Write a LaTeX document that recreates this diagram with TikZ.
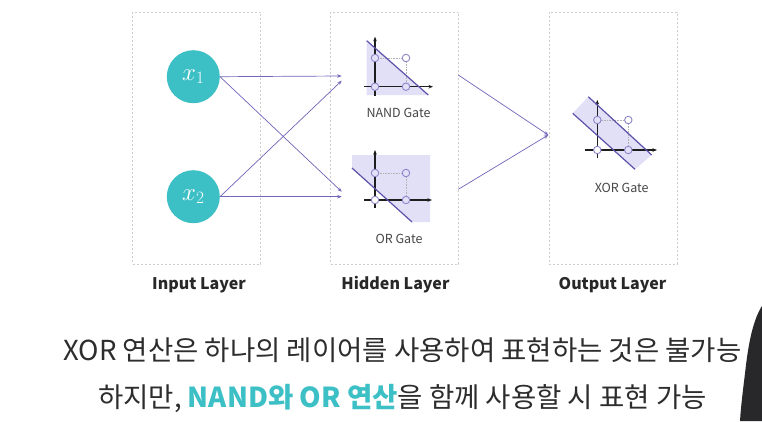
\documentclass[tikz,border=0pt]{standalone}
\usepackage{fontspec}
\setmainfont{Noto Sans CJK KR}
\usetikzlibrary{arrows.meta}

\definecolor{nodeteal}{RGB}{61,191,198}
\definecolor{linkpurple}{RGB}{112,102,186}
\definecolor{boxgray}{RGB}{205,205,205}
\definecolor{gateshade}{RGB}{226,224,247}
\definecolor{sepline}{RGB}{92,82,170}
\definecolor{dotline}{RGB}{140,133,204}
\definecolor{axisblack}{RGB}{30,30,30}
\definecolor{labelgray}{RGB}{40,40,40}
\definecolor{gatetext}{RGB}{70,70,70}
\definecolor{captiongray}{RGB}{45,45,45}
\definecolor{shoulder}{RGB}{40,40,42}

\begin{document}
\begin{tikzpicture}[
        x=1pt, y=-1pt,
        >={Stealth[length=4.5pt,width=3.5pt]},
        layer/.style={
            draw=boxgray,
            line width=0.5pt,
            dash pattern=on 2pt off 2pt,
            minimum width=128pt,
            minimum height=252pt,
            inner sep=0pt
        },
        neuron/.style={
            circle,
            fill=nodeteal,
            minimum size=53pt,
            inner sep=0pt,
            text=white,
            font=\fontsize{25}{25}\selectfont
        },
        link/.style={draw=linkpurple, line width=0.7pt},
        layerlabel/.style={font=\fontsize{16}{16}\selectfont\bfseries, text=labelgray},
        gatelabel/.style={font=\fontsize{12.5}{12.5}\selectfont, text=gatetext},
        axis/.style={->, line width=1.2pt, draw=axisblack},
        bound/.style={line width=1.2pt, draw=sepline},
        guide/.style={densely dotted, draw=gray!60, line width=0.6pt},
        dot/.style={circle, draw=dotline, line width=0.9pt, fill=gateshade, minimum size=7.5pt, inner sep=0pt},
        hollow/.style={dot, fill=white},
        caption/.style={font=\fontsize{27.5}{27.5}\selectfont, text=captiongray}
    ]
    \useasboundingbox[fill=white] (0,0) rectangle (762,421);

    \node[layer] (input) at (196.6,138) {};
    \node[layer] (hidden) at (394.6,138) {};
    \node[layer] (output) at (613,138) {};

    \node[layerlabel] (inputlabel) at (199,285) {Input Layer};
    \node[layerlabel] (hiddenlabel) at (395.4,285) {Hidden Layer};
    \node[layerlabel] (outputlabel) at (612.5,285) {Output Layer};

    \node[neuron] (x1) at (193.3,76.7) {$x_1$};
    \node[neuron] (x2) at (193.3,196.7) {$x_2$};

    % NAND
    \fill[gateshade] (366.7,40.7) -- (428.3,95) -- (366.7,95) -- cycle;
    \draw[guide] (375,58) -- (406,58) -- (406,86.7);
    \draw[axis] (375,96) -- (375,36.7);
    \draw[axis] (364,86.7) -- (433,86.7);
    \draw[bound] (366.7,40.7) -- (428.3,95);
    \node[dot] (nand01) at (375,58) {};
    \node[hollow] (nand11) at (406,58) {};
    \node[dot] (nand00) at (375,86.7) {};
    \node[dot] (nand10) at (406,86.7) {};
    \node[gatelabel] (nandlabel) at (398.5,113) {NAND Gate};

    % OR
    \fill[gateshade] (352,155) -- (430,155) -- (430,222) -- (412,222) -- (352,168) -- cycle;
    \draw[guide] (375,173) -- (406,173) -- (406,200);
    \draw[axis] (375,208) -- (375,150);
    \draw[axis] (364,200) -- (432,200);
    \draw[bound] (352,168) -- (412,222);
    \node[dot] (or01) at (375,173) {};
    \node[dot] (or11) at (406,173) {};
    \node[hollow] (or00) at (375,200) {};
    \node[dot] (or10) at (406,200) {};
    \node[gatelabel] (orlabel) at (399,238.5) {OR Gate};

    % XOR
    \fill[gateshade] (588.3,96.7) -- (651.7,155) -- (635,169.3) -- (572.7,113.3) -- cycle;
    \draw[guide] (597.3,120) -- (628.3,120) -- (628.3,150);
    \draw[axis] (597.3,158.3) -- (597.3,100);
    \draw[axis] (585,150) -- (657,150);
    \draw[bound] (588.3,96.7) -- (651.7,155);
    \draw[bound] (572.7,113.3) -- (635,169.3);
    \node[dot] (xor01) at (597.3,120) {};
    \node[hollow] (xor11) at (628.3,120) {};
    \node[hollow] (xor00) at (597.3,150) {};
    \node[dot] (xor10) at (628.3,150) {};
    \node[gatelabel] (xorlabel) at (621.7,188.3) {XOR Gate};

    \coordinate (nandin) at (341.7,76);
    \coordinate (nandcross) at (341.7,80.7);
    \coordinate (orcross) at (341.7,191.7);
    \coordinate (orin) at (341.7,196.7);
    \coordinate (nandout) at (458.3,75);
    \coordinate (orout) at (458.3,189.3);
    \coordinate (xorin) at (548.3,135);

    \draw[->, link] (x1.east) -- (nandin);
    \draw[->, link] (x1.east) -- (orcross);
    \draw[->, link] (x2.east) -- (nandcross);
    \draw[->, link] (x2.east) -- (orin);
    \draw[->, link] (nandout) -- (xorin);
    \draw[->, link] (orout) -- (xorin);

    \node[caption] (line1) at (402.5,350) {XOR 연산은 하나의 레이어를 사용하여 표현하는 것은 불가능};
    \node[caption] (line2) at (402.5,398) {하지만, {\color{nodeteal}\bfseries NAND와 OR 연산}을 함께 사용할 시 표현 가능};

    \fill[shoulder] (762,306) .. controls (754,318) and (749,340) .. (746,365) .. controls (743,390) and (741,405) .. (740,421) -- (762,421) -- cycle;
\end{tikzpicture}
\end{document}
